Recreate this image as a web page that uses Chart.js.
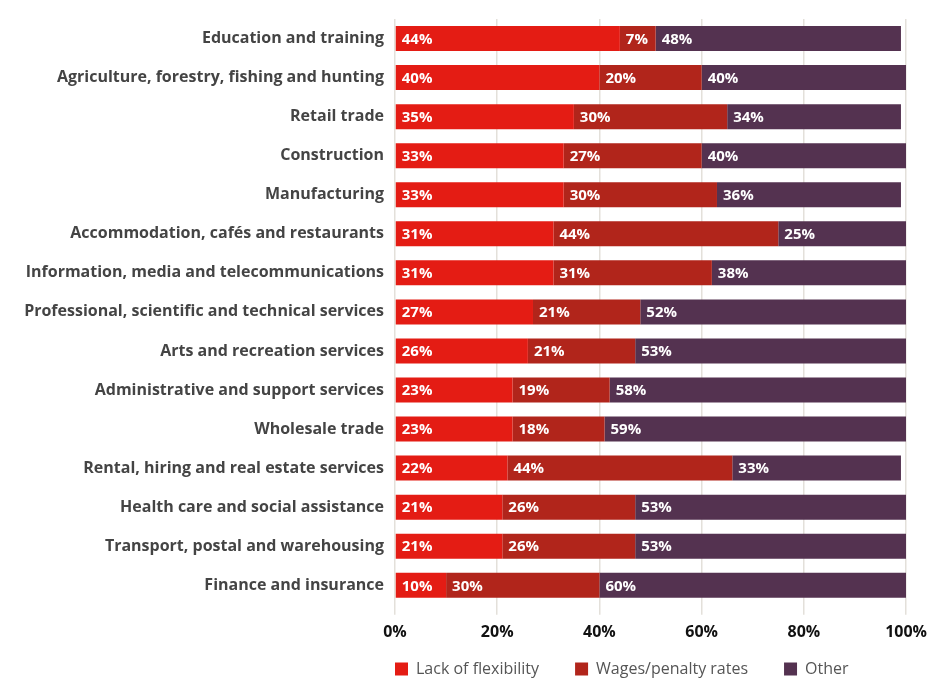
<!DOCTYPE html>
<html>
<head>
<meta charset="utf-8">
<script src="https://cdn.jsdelivr.net/npm/chart.js@4/dist/chart.umd.min.js"></script>
<style>
  html, body { margin: 0; padding: 0; background: #fff; }
  #wrap { width: 935px; height: 679px; }
</style>
</head>
<body>
<div id="wrap"><canvas id="chart" width="935" height="679"></canvas></div>
<script>
// Industries, top to bottom
const industries = [
  "Education and training",
  "Agriculture, forestry, fishing and hunting",
  "Retail trade",
  "Construction",
  "Manufacturing",
  "Accommodation, cafés and restaurants",
  "Information, media and telecommunications",
  "Professional, scientific and technical services",
  "Arts and recreation services",
  "Administrative and support services",
  "Wholesale trade",
  "Rental, hiring and real estate services",
  "Health care and social assistance",
  "Transport, postal and warehousing",
  "Finance and insurance",
];

// Share of responses (%) per reason
const lackOfFlexibility = [44, 40, 35, 33, 33, 31, 31, 27, 26, 23, 23, 22, 21, 21, 10];
const wagesPenaltyRates = [7, 20, 30, 27, 30, 44, 31, 21, 21, 19, 18, 44, 26, 26, 30];
const other = [48, 40, 34, 40, 36, 25, 38, 52, 53, 58, 59, 33, 53, 53, 60];

const xTicks = [0, 20, 40, 60, 80, 100];

const FONT = "'Open Sans', sans-serif";
const LEGEND_PAD = 36;

// white value labels at the left edge of each segment
const segmentLabels = {
  id: "segmentLabels",
  afterDatasetsDraw(chart) {
    const ctx = chart.ctx;
    ctx.save();
    ctx.fillStyle = "#ffffff";
    ctx.font = "700 15px " + FONT;
    ctx.textAlign = "left";
    ctx.textBaseline = "middle";
    chart.data.datasets.forEach((ds, i) => {
      chart.getDatasetMeta(i).data.forEach((bar, j) => {
        const left = Math.min(bar.x, bar.base);
        ctx.fillText(ds.data[j] + "%", left + 6, bar.y + 1);
      });
    });
    ctx.restore();
  },
};

// line the legend up with the plot's left edge and pin its row near the bottom
const legendPlacement = {
  id: "legendPlacement",
  afterLayout(chart) {
    const lg = chart.legend;
    const dx = chart.chartArea.left - LEGEND_PAD - lg.left;
    lg.left += dx;
    lg.right += dx;
    const dy = 661 - LEGEND_PAD - lg.top;
    lg.top += dy;
    lg.bottom += dy;
  },
};

new Chart(document.getElementById("chart"), {
  type: "bar",
  data: {
    labels: industries,
    datasets: [
      { label: "Lack of flexibility", data: lackOfFlexibility, backgroundColor: "#e41c14" },
      { label: "Wages/penalty rates", data: wagesPenaltyRates, backgroundColor: "#b1251b" },
      { label: "Other", data: other, backgroundColor: "#543250" },
    ],
  },
  options: {
    indexAxis: "y",
    responsive: false,
    animation: false,
    layout: { padding: { top: 19, right: 27, bottom: -33, left: 0 } },
    datasets: { bar: { barPercentage: 0.64, categoryPercentage: 1, borderWidth: 0 } },
    plugins: {
      tooltip: { enabled: false },
      legend: {
        position: "bottom",
        align: "start",
        fullSize: true,
        labels: {
          boxWidth: 13,
          boxHeight: 13,
          padding: LEGEND_PAD,
          color: "#555555",
          font: { family: FONT, size: 16, weight: "400" },
        },
      },
    },
    scales: {
      x: {
        stacked: true,
        min: 0,
        max: 100,
        afterBuildTicks: (scale) => {
          scale.ticks = xTicks.map((v) => ({ value: v }));
        },
        grid: { color: "#e3e0da", lineWidth: 1.5, drawTicks: true, tickLength: 10, tickColor: "#e3e0da" },
        border: { display: false },
        ticks: {
          padding: 8,
          color: "#111111",
          font: { family: FONT, size: 16, weight: "700" },
          callback: (v) => v + "%",
        },
      },
      y: {
        stacked: true,
        afterFit: (scale) => {
          scale.width = 395;
          scale.paddingTop = 0;
          scale.paddingBottom = 0;
        },
        grid: { display: false, drawTicks: false },
        border: { display: false },
        ticks: {
          padding: 11,
          color: "#444444",
          font: { family: FONT, size: 16, weight: "700" },
        },
      },
    },
  },
  plugins: [segmentLabels, legendPlacement],
});
</script>
</body>
</html>
